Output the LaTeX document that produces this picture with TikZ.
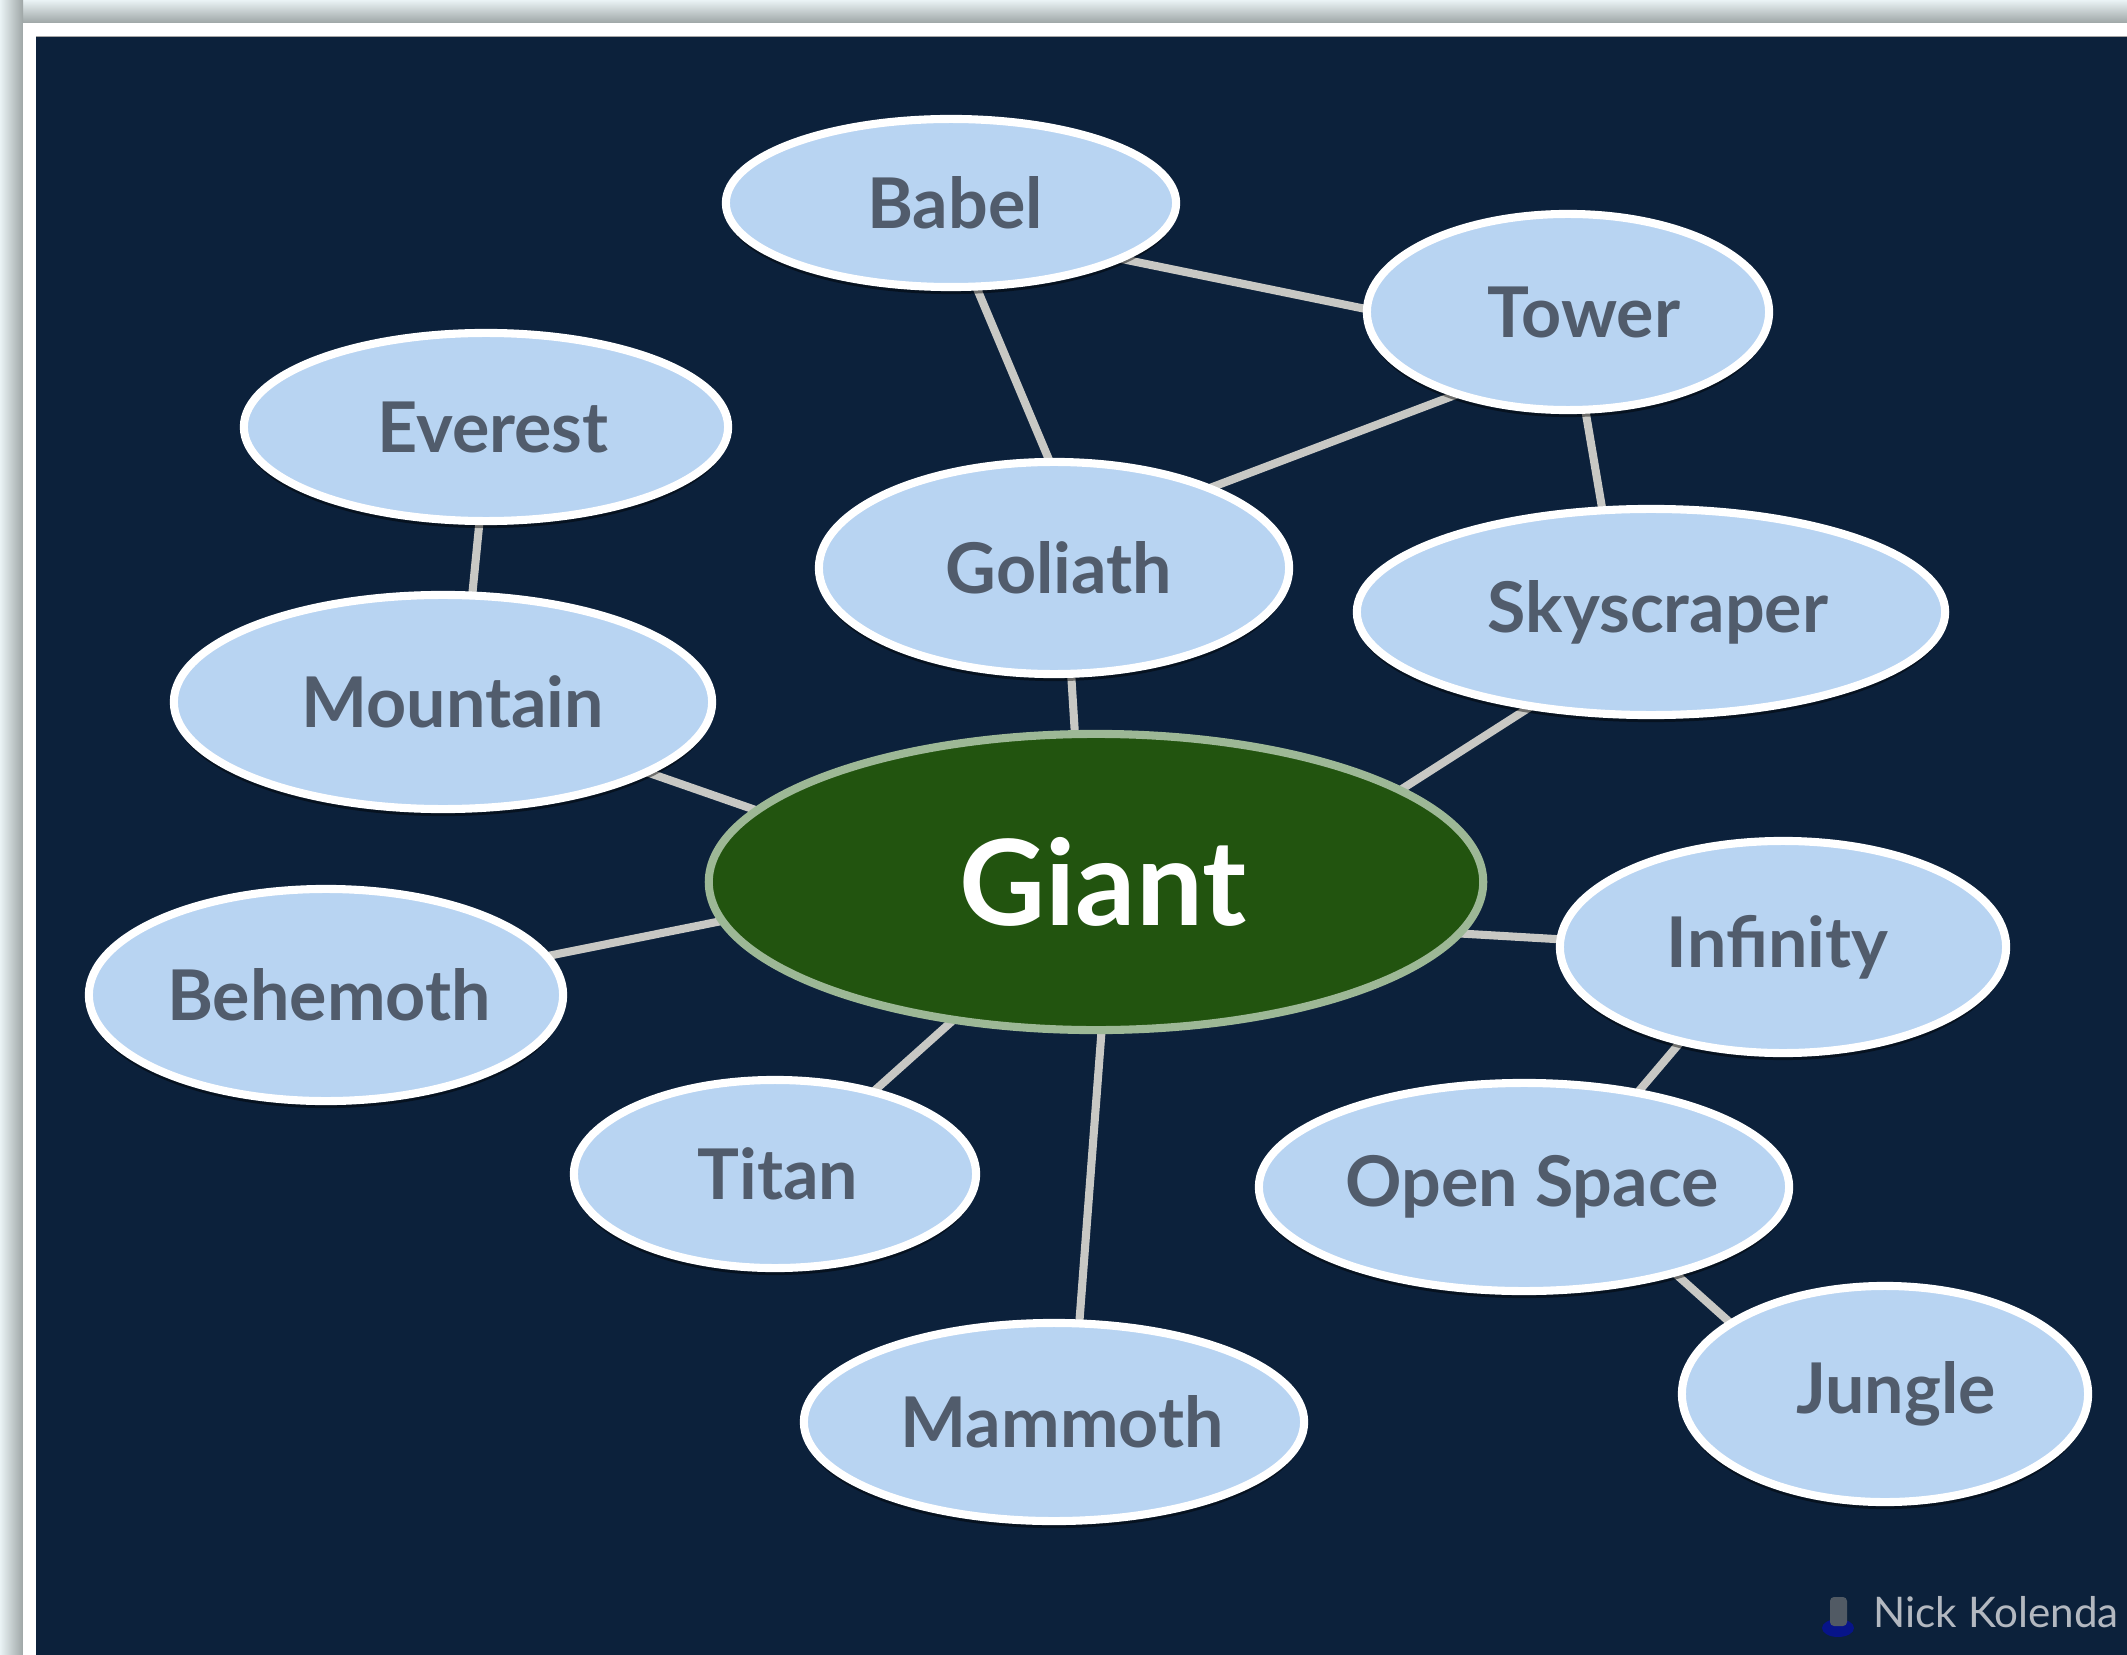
\documentclass[tikz,border=0pt]{standalone}
\usepackage{fontspec}
\setmainfont{Lato}
\usetikzlibrary{shapes.geometric,shadows}
\definecolor{navy}{HTML}{0C213B}
\definecolor{paper}{HTML}{EAF3F5}
\definecolor{shadegray}{HTML}{9EA6A6}
\definecolor{bubfill}{HTML}{B8D4F2}
\definecolor{bubtext}{HTML}{515C6C}
\definecolor{giantfill}{HTML}{22540F}
\definecolor{giantedge}{HTML}{9DB896}
\definecolor{linkgray}{HTML}{C8C8C4}
\definecolor{signgray}{HTML}{B3B8C0}
\pgfdeclarelayer{frame}
\pgfdeclarelayer{background}
\pgfsetlayers{frame,background,main}
\newcommand{\rs}[2]{\makebox[0pt][c]{\hspace*{#1cm}#2}}
\newcommand{\ls}[2]{\makebox[0pt][c]{#2\hspace*{#1cm}}}
\tikzset{
  bub/.style={ellipse, draw=white, line width=2.3pt, fill=bubfill, inner sep=0pt,
    text=bubtext, font=\fontsize{19.9}{24}\selectfont\bfseries,
    drop shadow={shadow xshift=0pt, shadow yshift=-2pt, opacity=0.45, fill=black}},
  giantnode/.style={ellipse, draw=giantedge, line width=2.3pt, fill=giantfill, inner sep=0pt,
    text=white, font=\fontsize{33.8}{40}\selectfont\bfseries},
  link/.style={draw=linkgray, line width=2.3pt, shorten <=-0.06cm, shorten >=-0.06cm}
}
\begin{document}
\begin{tikzpicture}[x=0.01cm, y=-0.01cm]
\useasboundingbox (0,0) rectangle (2127,1655);
% nodes
\node[giantnode, minimum width=7.74cm, minimum height=2.96cm] (giant) at (1096,882) {\rs{0.14}{Giant}};
\node[bub, minimum width=4.50cm, minimum height=1.68cm] (babel) at (951,203) {\rs{0.08}{Babel}};
\node[bub, minimum width=4.02cm, minimum height=1.96cm] (tower) at (1568,312) {\rs{0.32}{Tower}};
\node[bub, minimum width=4.84cm, minimum height=1.88cm] (everest) at (486,427) {\rs{0.14}{Everest}};
\node[bub, minimum width=4.70cm, minimum height=2.12cm] (goliath) at (1054,568) {\rs{0.10}{Goliath}};
\node[bub, minimum width=5.88cm, minimum height=2.06cm] (sky) at (1651,612) {\rs{0.14}{Skyscraper}};
\node[bub, minimum width=5.38cm, minimum height=2.14cm] (mountain) at (443,702) {\rs{0.19}{Mountain}};
\node[bub, minimum width=4.46cm, minimum height=2.12cm] (infinity) at (1783,947) {\ls{0.11}{Infinity}};
\node[bub, minimum width=4.74cm, minimum height=2.12cm] (behemoth) at (326,995) {\rs{0.06}{Behemoth}};
\node[bub, minimum width=4.02cm, minimum height=1.88cm] (titan) at (775,1174) {\rs{0.06}{Titan}};
\node[bub, minimum width=5.30cm, minimum height=2.08cm] (open) at (1524,1187) {\rs{0.16}{Open Space}};
\node[bub, minimum width=5.00cm, minimum height=1.98cm] (mammoth) at (1054,1422) {\rs{0.16}{Mammoth}};
\node[bub, minimum width=4.06cm, minimum height=2.16cm] (jungle) at (1885,1394) {\rs{0.22}{Jungle}};
\node[anchor=base west, text=signgray, font=\fontsize{12}{14}\selectfont, inner sep=0pt] (sign) at (1873,1627) {Nick Kolenda};
% links
\begin{pgfonlayer}{background}
\draw[link] (babel.-18) -- (tower.179);
\draw[link] (babel.-73) -- (goliath.93);
\draw[link] (tower.-144) -- (goliath.27);
\draw[link] (tower.-80) -- (sky.115);
\draw[link] (everest.-94) -- (mountain.75);
\draw[link] (goliath.-81) -- (giant.98);
\draw[link] (sky.-142) -- (giant.17);
\draw[link] (mountain.-19) -- (giant.168);
\draw[link] (behemoth.10) -- (giant.-174);
\draw[link] (titan.40) -- (giant.-136);
\draw[link] (mammoth.76) -- (giant.-88);
\draw[link] (infinity.178) -- (giant.-8);
\draw[link] (infinity.-137) -- (open.40);
\draw[link] (open.-30) -- (jungle.155);
\end{pgfonlayer}
% frame
\begin{pgfonlayer}{frame}
\fill[paper] (0,0) rectangle (2127,1655);
\shade[left color=paper, right color=shadegray] (0,23) rectangle (23,1655);
\shade[top color=paper, bottom color=shadegray] (23,0) rectangle (2127,23);
\shade[left color=paper, right color=shadegray] (0,0) rectangle (23,23);
\fill[white] (23,23) rectangle (2127,1655);
\fill[navy] (36,36) rectangle (2127,1655);
\draw[gray!70, line width=0.4pt] (36,36.5) -- (2127,36.5);
% small person icon
\fill[blue!40!navy] (1838,1628) ellipse (16 and 9);
\fill[gray!60!navy, rounded corners=0.04cm] (1830,1597) rectangle (1847,1626);
\end{pgfonlayer}
\end{tikzpicture}
\end{document}
